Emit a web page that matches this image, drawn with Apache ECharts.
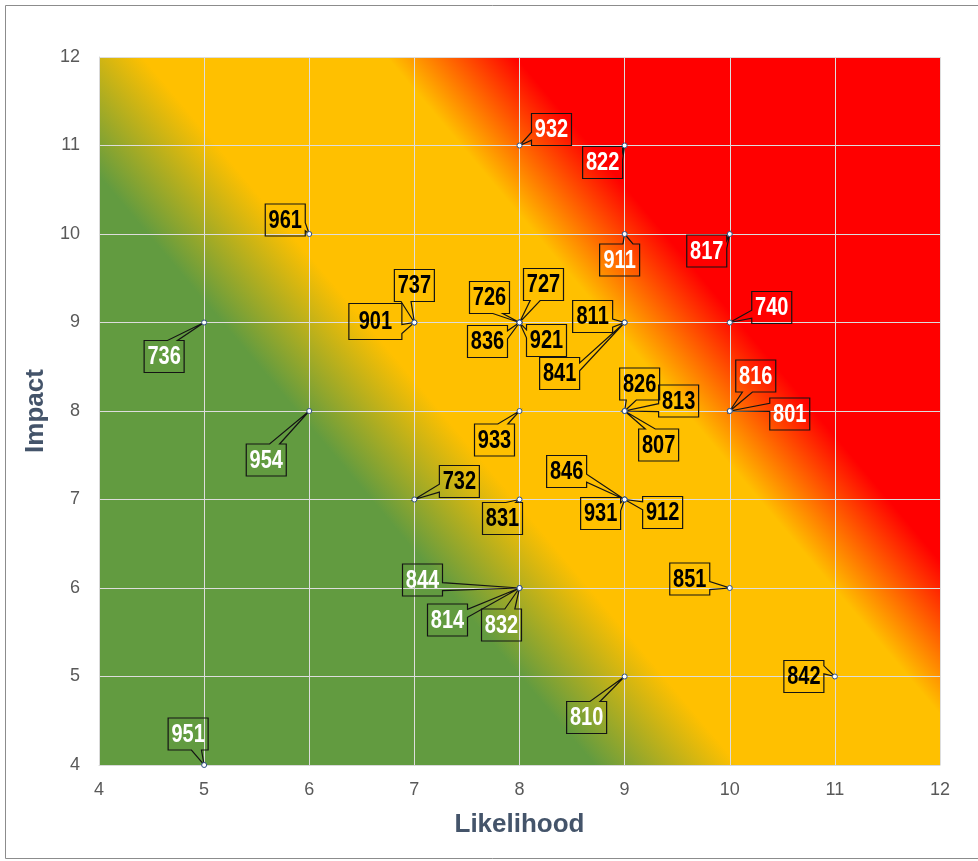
<!DOCTYPE html>
<html><head><meta charset="utf-8">
<script src="https://cdn.jsdelivr.net/npm/echarts@6/dist/echarts.min.js"></script>
<style>html,body{margin:0;padding:0;background:#fff}#c{width:978px;height:861px}</style>
</head><body><div id="c"></div>
<script>
// ---- data ----
const highIds = ['932','822','817','911','740','816','801'];
const highLikelihood = [8,9,10,9,10,10,10];
const highImpact = [11,11,10,10,9,8,8];

const mediumIds = ['961','737','901','726','727','836','921','811','841','826','813','807','933','732','831','846','931','912','851','842'];
const mediumLikelihood = [6,7,7,8,8,8,8,9,9,9,9,9,8,7,8,9,9,9,10,11];
const mediumImpact = [10,9,9,9,9,9,9,9,9,8,8,8,8,7,7,7,7,7,6,5];

const lowIds = ['736','954','844','814','832','810','951'];
const lowLikelihood = [5,6,8,8,8,9,5];
const lowImpact = [9,8,6,6,6,5,4];

const axisMin = 4, axisMax = 12, axisStep = 1;

// ---- layout of callouts (pixel offset of box centre from its point) ----
const calloutOffset = {
 '932':[32,-16],'822':[-22,17],'961':[-24,-14],'911':[-5,26],'817':[-23,17],
 '737':[0,-37],'901':[-39,-1],'736':[-40,34],'726':[-30,-25],'727':[24,-38],
 '836':[-32,19],'921':[27,18],'811':[-32,-6],'841':[-65,51],'740':[42,-15],
 '816':[26,-35],'801':[60,3],'826':[15,-27],'813':[54,-10],'807':[34,34],
 '954':[-43,49],'933':[-25,29],'732':[45,-18],'831':[-17,19],'846':[-58,-28],
 '931':[-24,14],'912':[38,13],'844':[-97,-8],'814':[-72,32],'832':[-18,37],
 '851':[-40,-9],'842':[-31,0],'810':[-38,41],'951':[-16,-31]
};
const calloutSize = {'901':[53,36]};
const SANS = "'Liberation Sans',Arial,sans-serif";

function calloutRenderer(ids, textColor) {
  return function (params, api) {
    const id = ids[params.dataIndex];
    const p = api.coord([api.value(0), api.value(1)]);
    const off = calloutOffset[id] || [0, -30];
    const sz = calloutSize[id] || [40, 32];
    const w = sz[0], h = sz[1];
    const cx = p[0] + off[0], cy = p[1] + off[1];
    const x0 = cx - w / 2, y0 = cy - h / 2, x1 = cx + w / 2, y1 = cy + h / 2;
    const dx = p[0] - cx, dy = p[1] - cy;
    let pts;
    if (Math.abs(dx) <= w / 2 && Math.abs(dy) <= h / 2) {
      pts = [[x0,y0],[x1,y0],[x1,y1],[x0,y1]];
    } else if (Math.abs(dx) * h > Math.abs(dy) * w) {
      const ya = dy > 0 ? y0 + h * 7 / 12 : y0 + h * 2 / 12;
      const yb = dy > 0 ? y0 + h * 10 / 12 : y0 + h * 5 / 12;
      if (dx > 0) pts = [[x0,y0],[x1,y0],[x1,ya],p,[x1,yb],[x1,y1],[x0,y1]];
      else pts = [[x0,y0],[x1,y0],[x1,y1],[x0,y1],[x0,yb],p,[x0,ya]];
    } else {
      const xa = dx > 0 ? x0 + w * 7 / 12 : x0 + w * 2 / 12;
      const xb = dx > 0 ? x0 + w * 10 / 12 : x0 + w * 5 / 12;
      if (dy > 0) pts = [[x0,y0],[x1,y0],[x1,y1],[xb,y1],p,[xa,y1],[x0,y1]];
      else pts = [[x0,y0],[xa,y0],p,[xb,y0],[x1,y0],[x1,y1],[x0,y1]];
    }
    return {
      type: 'group',
      children: [
        { type: 'polygon', shape: { points: pts },
          style: { fill: 'transparent', stroke: '#141414', lineWidth: 1.2 } },
        { type: 'text', x: cx, y: cy + 1, scaleX: 0.8,
          style: { text: id, fill: textColor, fontFamily: SANS, fontWeight: 'bold',
                   fontSize: 25, align: 'center', verticalAlign: 'middle' } }
      ]
    };
  };
}

function pairs(xs, ys) { return xs.map((x, i) => [x, ys[i]]); }

const groups = [
  { name: 'High', ids: highIds, data: pairs(highLikelihood, highImpact), text: '#ffffff' },
  { name: 'Medium', ids: mediumIds, data: pairs(mediumLikelihood, mediumImpact), text: '#000000' },
  { name: 'Low', ids: lowIds, data: pairs(lowLikelihood, lowImpact), text: '#ffffff' }
];

const series = [];
groups.forEach(g => {
  series.push({
    type: 'custom', name: g.name + ' labels', data: g.data, clip: false, z: 3,
    encode: { x: 0, y: 1 }, renderItem: calloutRenderer(g.ids, g.text), silent: true
  });
});
groups.forEach(g => {
  series.push({
    type: 'scatter', name: g.name, data: g.data, symbol: 'circle', symbolSize: 5, z: 5,
    itemStyle: { color: '#ffffff', borderColor: '#2F4F80', borderWidth: 1, opacity: 1 },
    emphasis: { disabled: true }
  });
});

const axisCommon = {
  type: 'value', min: axisMin, max: axisMax, interval: axisStep,
  axisLine: { show: true, lineStyle: { color: '#D9D9D9', width: 1 } },
  axisTick: { show: false },
  splitLine: { show: true, lineStyle: { color: '#DDDDDD', width: 1 } },
  axisLabel: { color: '#595959', fontFamily: SANS, fontSize: 18 },
  nameLocation: 'middle',
  nameTextStyle: { color: '#44546A', fontFamily: SANS, fontWeight: 'bold', fontSize: 26 }
};

const chart = echarts.init(document.getElementById('c'), null, { renderer: 'canvas' });
chart.setOption({
  animation: false,
  backgroundColor: '#ffffff',
  graphic: [{
    type: 'rect', left: 5, top: 5, z: -1,
    shape: { width: 1000, height: 853 },
    style: { fill: 'transparent', stroke: '#8C8C8C', lineWidth: 1 }
  }],
  grid: {
    left: 99, right: 38, top: 57, bottom: 96, show: true, borderWidth: 0,
    backgroundColor: new echarts.graphic.LinearGradient(0, 1, 1, 0, [
      { offset: 0, color: '#629B40' },
      { offset: 0.345, color: '#629B40' },
      { offset: 0.445, color: '#FFC000' },
      { offset: 0.615, color: '#FFC000' },
      { offset: 0.705, color: '#FF0000' },
      { offset: 1, color: '#FF0000' }
    ])
  },
  xAxis: Object.assign({}, axisCommon, {
    name: 'Likelihood', nameGap: 47,
    axisLabel: Object.assign({}, axisCommon.axisLabel, { margin: 16 })
  }),
  yAxis: Object.assign({}, axisCommon, {
    name: 'Impact', nameGap: 46,
    axisLabel: Object.assign({}, axisCommon.axisLabel, { margin: 19 })
  }),
  tooltip: { show: false },
  series: series
});
</script></body></html>
